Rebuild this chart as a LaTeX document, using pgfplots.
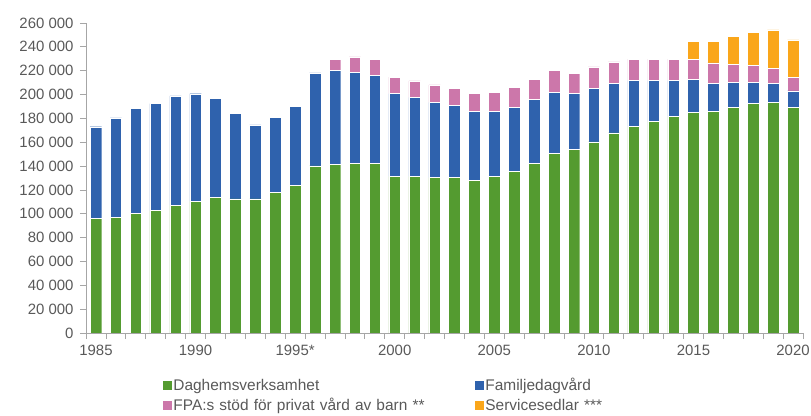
\documentclass[border=0pt]{standalone}
\usepackage{fontspec}
\setmainfont{Liberation Sans}
\usepackage{pgfplots}
\pgfplotsset{compat=1.18}
\usepackage{pgfplotstable}
\definecolor{cg}{RGB}{84,155,48}
\definecolor{cb}{RGB}{47,98,173}
\definecolor{cp}{RGB}{204,119,170}
\definecolor{co}{RGB}{250,166,26}
\definecolor{axgray}{RGB}{166,166,166}
\definecolor{labgray}{RGB}{89,89,89}
\pgfplotstableread{
x g b p o
0 96000 77000 0 0
1 97000 83500 0 0
2 100600 87600 0 0
3 102600 89800 0 0
4 107100 91700 0 0
5 110400 90300 0 0
6 113500 83100 0 0
7 112400 71600 0 0
8 112400 62100 0 0
9 117700 62900 0 0
10 124100 66000 0 0
11 140100 78000 0 0
12 141200 78800 9600 0
13 142300 76600 12600 0
14 142300 73600 13700 0
15 131400 69400 13900 0
16 131400 66300 13700 0
17 130300 63200 14500 0
18 130300 60900 13700 0
19 128300 57600 14900 0
20 131400 54500 16000 0
21 135600 53700 16800 0
22 142300 53400 16800 0
23 150700 51200 18100 0
24 153800 47000 17000 0
25 160200 45000 17900 0
26 167800 41600 17900 0
27 173100 38600 17900 0
28 177500 34200 17900 0
29 181700 30000 17900 0
30 184800 27700 17100 15100
31 185900 23500 17100 18200
32 189300 21200 14900 23400
33 192400 18100 13700 28000
34 193500 15900 12600 32200
35 189300 13700 11700 31100
}\data
\begin{document}
\begin{tikzpicture}
\path[use as bounding box] (0,0) rectangle (811bp,416bp);
\begin{axis}[
  at={(86bp,83bp)}, anchor=south west,
  scale only axis, width=717bp, height=310bp,
  ybar stacked, bar width=0.58,
  xmin=-0.5, xmax=35.5, ymin=0, ymax=260000,
  axis x line*=bottom, axis y line*=left,
  axis line style={draw=axgray, line width=0.8bp},
  tick style={draw=axgray, line width=0.8bp},
  tick align=outside, major tick length=6bp,
  xtick={-0.5,0.5,...,35.5}, xticklabels={},
  extra x ticks={0,5,10,15,20,25,30,35},
  extra x tick labels={1985,1990,1995*,2000,2005,2010,2015,2020},
  extra x tick style={major tick length=0pt, tick label style={yshift=-9bp}},
  ytick={0,20000,...,260000},
  scaled y ticks=false,
  yticklabel style={xshift=-3bp, /pgf/number format/fixed, /pgf/number format/1000 sep={\ }, /pgf/number format/assume math mode=true},
  tick label style={font=\fontsize{15}{18}\selectfont, text=labgray},
  every axis plot/.append style={draw=white, line width=0.4bp},
  every axis plot post/.append style={legend image code/.code={\fill[##1, draw=none] (0bp,-4.5bp) rectangle (9bp,4.5bp);}},
  legend columns=2,
  legend cell align=left,
  legend style={at={(0.107,-0.141)}, anchor=north west, draw=none, fill=none, inner sep=0pt,
    font=\fontsize{15.5}{18}\selectfont, text=labgray,
    nodes={inner sep=1.5bp, text width=300bp, align=left},
    /tikz/every even column/.append style={column sep=0bp},
    row sep=3bp},
]
\addplot[fill=cg] table[x=x,y=g]{\data};
\addplot[fill=cb] table[x=x,y=b]{\data};
\addplot[fill=cp] table[x=x,y=p]{\data};
\addplot[fill=co] table[x=x,y=o]{\data};
\legend{Daghemsverksamhet, Familjedagvård, FPA:s stöd för privat vård av barn **, Servicesedlar ***}
\end{axis}
\end{tikzpicture}
\end{document}
